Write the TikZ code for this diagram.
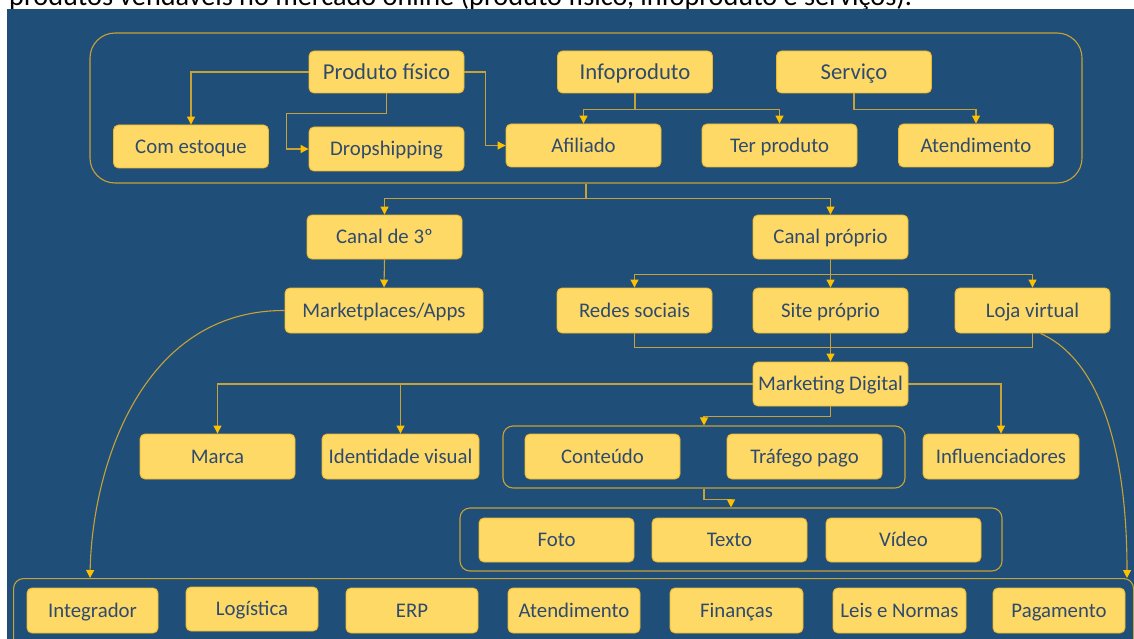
\documentclass[tikz,border=0pt]{standalone}
\usepackage{fontspec}
\setmainfont{Carlito}
\usepackage{graphicx}
\usetikzlibrary{arrows.meta}
\definecolor{bg}{HTML}{1F4E79}
\definecolor{boxfill}{HTML}{FFD966}
\definecolor{boxline}{HTML}{EDB82A}
\definecolor{txt}{HTML}{2E4B6E}
\definecolor{linecol}{HTML}{C8A236}
\definecolor{arrowcol}{HTML}{FFC000}
\newcommand{\fsz}[1]{\fontsize{#1pt}{#1pt}\selectfont}
\begin{document}
\begin{tikzpicture}[x=1pt,y=-1pt,
  box/.style={draw=boxline, fill=boxfill, line width=0.9pt, rounded corners=5pt, text=txt, font=\fsz{20.8}, inner sep=0pt, text height=13.4pt, text depth=0pt, minimum width=155pt, minimum height=44pt},
  big/.style={box, font=\fsz{22.7}, text height=14.6pt, minimum height=42pt},
  grp/.style={draw=linecol, line width=1.1pt, inner sep=0pt},
  conn/.style={draw=linecol, line width=1.1pt},
  arr/.style={-{Triangle[length=8pt,width=8pt,color=arrowcol]}},
]
\useasboundingbox (0,0) rectangle (1134,639);
\fill[white] (0,0) rectangle (1134,639);
\node[anchor=base west, inner sep=0pt, text=black] (cap) at (9,5.5) {\resizebox{903pt}{!}{produtos vendáveis no mercado online (produto físico, infoproduto e serviços).}};
\fill[bg] (7,9) rectangle (1134,639);

% groups
\node[grp, rounded corners=25pt, minimum width=992pt, minimum height=150pt] (g1) at (586,108) {};
\node[grp, rounded corners=10pt, minimum width=402pt, minimum height=62pt] (g2) at (704,457) {};
\node[grp, rounded corners=10pt, minimum width=542pt, minimum height=63pt] (g3) at (731,539.5) {};
\node[grp, rounded corners=10pt, minimum width=1120pt, minimum height=82pt, anchor=north west] (g4) at (13,578) {};

% top group
\node[big] (pf) at (386.5,72) {Produto físico};
\node[big] (info) at (635,72) {Infoproduto};
\node[big] (serv) at (854,72) {Serviço};
\node[box, minimum height=43pt] (ce) at (191,146.5) {Com estoque};
\node[box] (ds) at (386.5,149) {Dropshipping};
\node[box, minimum height=43pt] (af) at (583.5,145.5) {Afiliado};
\node[box, minimum height=43pt] (tp) at (779.5,145.5) {Ter produto};
\node[box, minimum height=43pt] (at1) at (976,145.5) {Atendimento};

% middle
\node[box] (c3) at (384.5,237) {Canal de 3º};
\node[box] (cp) at (830.5,237) {Canal próprio};
\node[box, minimum width=198pt, minimum height=45pt] (mk) at (384,310.5) {Marketplaces/Apps};
\node[box, minimum height=45pt] (rs) at (634.5,310.5) {Redes sociais};
\node[box, minimum height=45pt] (sp) at (830.5,310.5) {Site próprio};
\node[box, minimum height=45pt] (lv) at (1032.5,310.5) {Loja virtual};
\node[box] (md) at (830.5,384) {Marketing Digital};
\node[box, minimum height=45pt] (marca) at (217.5,456.5) {Marca};
\node[box, minimum width=157pt, minimum height=45pt] (iv) at (400.5,456.5) {Identidade visual};
\node[box, minimum height=45pt] (ct) at (602.5,456.5) {Conteúdo};
\node[box, minimum height=45pt] (tf) at (804.5,456.5) {Tráfego pago};
\node[box, minimum width=156pt, minimum height=45pt] (infl) at (1001,456.5) {Influenciadores};
\node[box] (foto) at (556.5,540) {Foto};
\node[box] (texto) at (729.5,540) {Texto};
\node[box] (video) at (903.5,540) {Vídeo};

% bottom
\node[box, minimum width=131pt, minimum height=45pt] (b1) at (92.5,610.5) {Integrador};
\node[box, minimum width=132pt, minimum height=44pt] (b2) at (252,609) {Logística};
\node[box, minimum width=132pt, minimum height=45pt] (b3) at (412,610.5) {ERP};
\node[box, minimum width=132pt, minimum height=45pt] (b4) at (574,610.5) {Atendimento};
\node[box, minimum width=133pt, minimum height=45pt] (b5) at (736.5,610.5) {Finanças};
\node[box, minimum width=133pt, minimum height=45pt] (b6) at (899.5,610.5) {Leis e Normas};
\node[box, minimum width=132pt, minimum height=45pt] (b7) at (1059,610.5) {Pagamento};

\coordinate (e1) at (90,578);
\coordinate (e2) at (1127,578);

% connectors top
\draw[conn,arr] (pf.west) -| (ce.north);
\draw[conn,arr] (pf.south) -- ++(0,20) -| ([xshift=-22pt]ds.west) -- (ds.west);
\draw[conn,arr] (pf.east) -- ++(21,0) |- (af.west);
\draw[conn,arr] (info.south) -- ++(0,16) -| (af.north);
\draw[conn,arr] (info.south) -- ++(0,16) -| (tp.north);
\draw[conn,arr] (serv.south) -- ++(0,16) -| (at1.north);

% middle connectors
\draw[conn,arr] (g1.south) -- ++(0,15) -| (c3.north);
\draw[conn,arr] (g1.south) -- ++(0,15) -| (cp.north);
\draw[conn,arr] (c3.south) -- (mk.north);
\draw[conn,arr] (cp.south) -- ++(0,15) -| (rs.north);
\draw[conn,arr] (cp.south) -- (sp.north);
\draw[conn,arr] (cp.south) -- ++(0,15) -| (lv.north);
\draw[conn] (rs.south) -- ++(0,14) -| (lv.south);
\draw[conn,arr] (sp.south) -- (md.north);
\draw[conn,arr] (md.west) -| (marca.north);
\draw[conn,arr] (md.west) -| (iv.north);
\draw[conn,arr] (md.south) -- ++(0,10) -| (g2.north);
\draw[conn,arr] (md.east) -| (infl.north);
\draw[conn,arr] (g2.south) -- ++(0,11) -| (g3.north);

% curves
\draw[conn,arr] (mk.west) .. controls (140,310) and (92,470) .. (e1);
\draw[conn,arr] ([xshift=8pt]lv.south) .. controls (1100,360) and (1127,450) .. (e2);
\end{tikzpicture}
\end{document}
